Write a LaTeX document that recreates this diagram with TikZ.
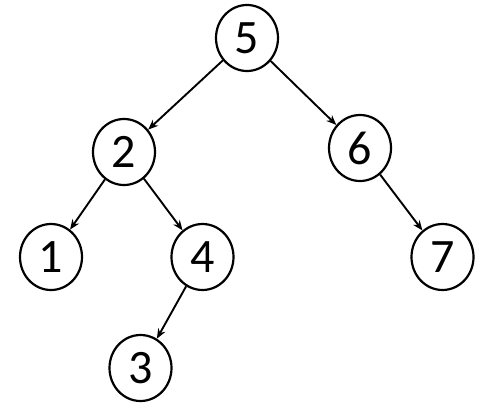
\documentclass[tikz,border=0pt]{standalone}
\usepackage{fontspec}
\setmainfont{Carlito}
\usetikzlibrary{arrows.meta,shapes.geometric}
\begin{document}
\begin{tikzpicture}[x=1pt,y=-1pt,
  treenode/.style={draw, line width=2.2pt, ellipse, minimum width=62pt, minimum height=66pt, inner sep=0pt, font=\fontsize{48}{48}\selectfont},
  edge/.style={line width=1.9pt, -{Stealth[length=10pt,width=8pt]}}]
\useasboundingbox (0,0) rectangle (495,420);
\node[treenode] (n5) at (247,38) {5};
\node[treenode] (n2) at (124,152) {2};
\node[treenode] (n6) at (360,148) {6};
\node[treenode] (n1) at (51,257) {1};
\node[treenode] (n4) at (202.5,257) {4};
\node[treenode] (n7) at (442.5,257) {7};
\node[treenode] (n3) at (140.5,368) {3};
\draw[edge] (n5) -- (n2);
\draw[edge] (n5) -- (n6);
\draw[edge] (n2) -- (n1);
\draw[edge] (n2) -- (n4);
\draw[edge] (n6) -- (n7);
\draw[edge] (n4) -- (n3);
\end{tikzpicture}
\end{document}
